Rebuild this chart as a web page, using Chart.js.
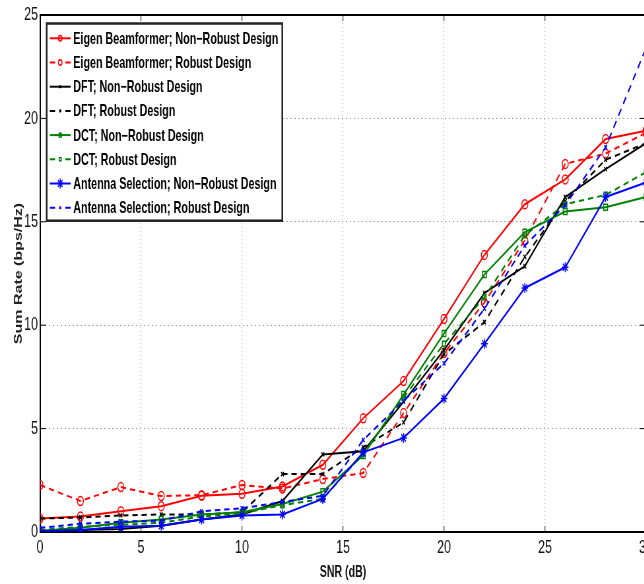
<!DOCTYPE html>
<html>
<head>
<meta charset="utf-8">
<script src="https://cdn.jsdelivr.net/npm/chart.js@4.4.0/dist/chart.umd.min.js"></script>
<style>
  html, body { margin: 0; padding: 0; overflow: hidden; background: #fff; }
  #wrap { width: 1000px; height: 584px; transform: scaleX(0.66); transform-origin: 0 0; }
</style>
</head>
<body>
<div id="wrap"><canvas id="c" width="1000" height="584"></canvas></div>
<script>
// data
const snr = [0, 2, 4, 6, 8, 10, 12, 14, 16, 18, 20, 22, 24, 26, 28, 30];
const eigenNonRobust   = [0.65, 0.75, 1.0, 1.25, 1.75, 1.85, 2.2, 3.25, 5.5, 7.3, 10.3, 13.4, 15.85, 17.05, 19.0, 19.4];
const eigenRobust      = [2.27, 1.5, 2.17, 1.74, 1.78, 2.27, 2.1, 2.56, 2.85, 5.75, 8.65, 11.1, 14.1, 17.8, 18.3, 19.3];
const dftNonRobust     = [0.05, 0.1, 0.15, 0.3, 0.6, 0.85, 1.5, 3.75, 3.9, 6.3, 8.8, 11.55, 12.85, 16.2, 17.55, 18.8];
const dftRobust        = [0.65, 0.7, 0.8, 0.85, 0.85, 0.95, 2.8, 2.8, 4.1, 5.3, 8.6, 10.15, 13.3, 16.0, 18.0, 18.8];
const dctNonRobust     = [0.05, 0.2, 0.45, 0.6, 0.85, 0.95, 1.35, 1.95, 3.7, 6.65, 9.6, 12.45, 14.5, 15.5, 15.7, 16.2];
const dctRobust        = [0.1, 0.25, 0.35, 0.45, 0.75, 0.9, 1.3, 1.6, 3.8, 6.5, 9.1, 11.35, 14.35, 15.85, 16.3, 17.4];
const antennaNonRobust = [0.05, 0.1, 0.25, 0.3, 0.6, 0.8, 0.85, 1.6, 3.85, 4.55, 6.45, 9.1, 11.8, 12.8, 16.2, 16.9];
const antennaRobust    = [0.2, 0.4, 0.5, 0.55, 1.0, 1.15, 1.45, 1.75, 4.45, 6.35, 8.15, 10.8, 13.85, 15.8, 18.6, 23.4];

const xTicks = [0, 5, 10, 15, 20, 25, 30];
const yTicks = [0, 5, 10, 15, 20, 25];

const SX = 0.66; // the figure is squeezed horizontally, the wrapper does the same
const FONT = "'Liberation Sans', Arial, sans-serif";

function pts(vals) {
    return vals.map((v, i) => ({ x: snr[i], y: v }));
}

function series(label, vals, color, dashed, style, radius) {
    return {
        label: label,
        data: pts(vals),
        borderColor: color,
        borderWidth: 2,
        borderDash: dashed ? [8, 6] : [],
        pointStyle: style,
        pointRadius: radius,
        pointBorderColor: color,
        pointBackgroundColor: 'rgba(0,0,0,0)',
        pointBorderWidth: 1.5,
        fill: false,
        tension: 0
    };
}

const datasets = [
    series('Eigen Beamformer; Non\u2212Robust Design', eigenNonRobust, '#ff0000', false, 'circle', 4.5),
    series('Eigen Beamformer; Robust Design', eigenRobust, '#ff0000', true, 'circle', 4.5),
    series('DFT; Non\u2212Robust Design', dftNonRobust, '#000000', false, 'crossRot', 3),
    series('DFT; Robust Design', dftRobust, '#000000', true, 'crossRot', 3),
    series('DCT; Non\u2212Robust Design', dctNonRobust, '#008000', false, 'rect', 4.2),
    series('DCT; Robust Design', dctRobust, '#008000', true, 'rect', 3.6),
    series('Antenna Selection; Non\u2212Robust Design', antennaNonRobust, '#0000ff', false, 'star', 5),
    series('Antenna Selection; Robust Design', antennaRobust, '#0000ff', true, 'crossRot', 3)
];
// matlab draws later lines on top
datasets.forEach((d, i) => { d.order = datasets.length - i; });

// frame, inward ticks and the boxed legend
const framePlugin = {
    id: 'frame',
    afterDraw(chart) {
        const { ctx, chartArea: a } = chart;
        const xs = chart.scales.x, ys = chart.scales.y;
        ctx.save();
        ctx.strokeStyle = '#000';
        ctx.lineWidth = 2;
        ctx.beginPath();
        ctx.moveTo(a.left, a.top);
        ctx.lineTo(a.right, a.top);
        ctx.lineTo(a.right, a.bottom);
        ctx.stroke();

        ctx.lineWidth = 1;
        ctx.beginPath();
        xTicks.forEach(t => {
            const px = xs.getPixelForValue(t);
            ctx.moveTo(px, a.bottom); ctx.lineTo(px, a.bottom - 6);
            ctx.moveTo(px, a.top); ctx.lineTo(px, a.top + 6);
        });
        yTicks.forEach(t => {
            const py = ys.getPixelForValue(t);
            ctx.moveTo(a.left, py); ctx.lineTo(a.left + 6 / SX, py);
            ctx.moveTo(a.right, py); ctx.lineTo(a.right - 6 / SX, py);
        });
        ctx.stroke();

        // legend
        const box = { left: 70.7, top: 23.5, right: 427.7, bottom: 220.7 };
        ctx.fillStyle = '#fff';
        ctx.fillRect(box.left, box.top, box.right - box.left, box.bottom - box.top);
        ctx.strokeStyle = '#222';
        ctx.lineWidth = 2.5;
        ctx.strokeRect(box.left, box.top, box.right - box.left, box.bottom - box.top);

        const x0 = 75.5, x1 = 107, tx = 111;
        ctx.font = 'bold 16.3px ' + FONT;
        ctx.textBaseline = 'middle';
        ctx.textAlign = 'left';
        chart.data.datasets.forEach((d, i) => {
            const y = 38.3 + i * 24.2;
            ctx.strokeStyle = d.borderColor;
            ctx.lineWidth = 2;
            ctx.setLineDash([]);
            ctx.beginPath();
            if (d.borderDash.length) {
                ctx.moveTo(x0, y); ctx.lineTo(x0 + 8, y);
                ctx.moveTo(x1 - 8, y); ctx.lineTo(x1, y);
            } else {
                ctx.moveTo(x0, y); ctx.lineTo(x1, y);
            }
            ctx.stroke();
            ctx.fillStyle = 'rgba(0,0,0,0)';
            ctx.lineWidth = 1.5;
            const r = d.pointStyle === 'star' ? d.pointRadius : d.pointRadius * 0.6;
            if (Chart.helpers && Chart.helpers.drawPoint) {
                Chart.helpers.drawPoint(ctx, { pointStyle: d.pointStyle, radius: r, rotation: 0, borderWidth: 1.5 }, (x0 + x1) / 2, y);
            }
            ctx.fillStyle = '#000';
            ctx.fillText(d.label, tx, y + 1);
        });
        ctx.restore();
    }
};

new Chart(document.getElementById('c'), {
    type: 'line',
    data: { datasets: datasets },
    options: {
        responsive: false,
        animation: false,
        devicePixelRatio: 1,
        layout: { padding: { top: 15, right: 1000 - 646 / SX, left: 0, bottom: 0 } },
        plugins: {
            legend: { display: false },
            tooltip: { enabled: false }
        },
        scales: {
            x: {
                type: 'linear',
                min: 0,
                max: 30,
                afterFit(scale) { scale.height = 52; },
                afterBuildTicks(scale) { scale.ticks = xTicks.map(v => ({ value: v })); },
                ticks: {
                    color: '#111',
                    padding: 4,
                    maxRotation: 0,
                    font: { family: FONT, size: 19 }
                },
                grid: { color: '#9a9a9a', lineWidth: 1, drawTicks: false },
                border: { display: true, color: '#000', width: 2, dash: [1, 3] },
                title: {
                    display: true,
                    text: 'SNR (dB)',
                    color: '#111',
                    font: { family: FONT, size: 16, weight: 'bold' },
                    padding: { top: 0, bottom: 2 }
                }
            },
            y: {
                type: 'linear',
                min: 0,
                max: 25,
                afterFit(scale) { scale.width = 40 / SX; },
                afterBuildTicks(scale) { scale.ticks = yTicks.map(v => ({ value: v })); },
                ticks: {
                    color: '#111',
                    padding: 3,
                    font: { family: FONT, size: 19 }
                },
                grid: { color: '#9a9a9a', lineWidth: 1, drawTicks: false },
                border: { display: true, color: '#000', width: 2, dash: [2, 4] },
                title: {
                    display: true,
                    text: 'Sum Rate (bps/Hz)',
                    color: '#222',
                    font: { family: FONT, size: 16, weight: 'bold' },
                    padding: { top: 19, bottom: 0 }
                }
            }
        }
    },
    plugins: [framePlugin]
});
</script>
</body>
</html>
